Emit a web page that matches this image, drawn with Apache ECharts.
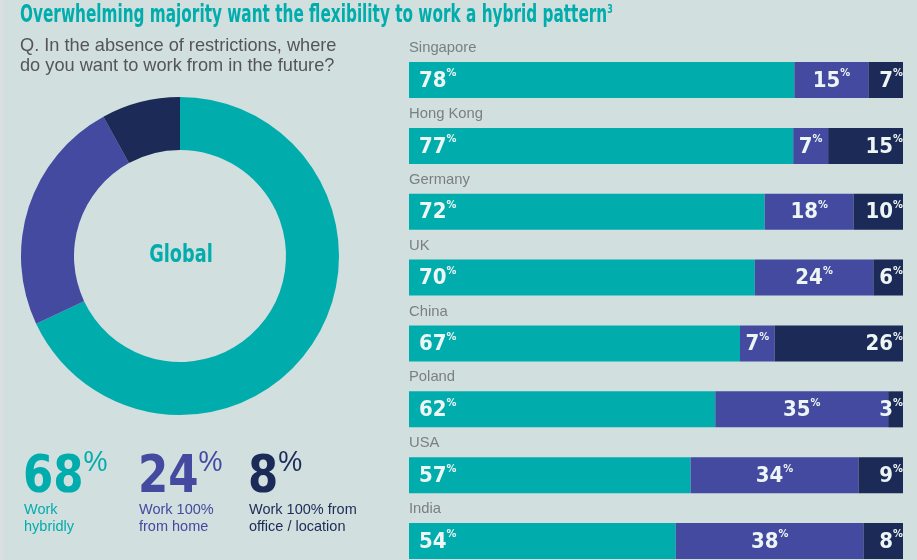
<!DOCTYPE html>
<html><head><meta charset="utf-8">
<script src="https://cdn.jsdelivr.net/npm/echarts@6/dist/echarts.min.js"></script>
<style>html,body{margin:0;padding:0;background:#d1dfdf}#c{width:917px;height:560px}</style>
</head><body><div id="c"></div>
<script>
const countries = ['Singapore','Hong Kong','Germany','UK','China','Poland','USA','India'];
const hybrid = [78,77,72,70,67,62,57,54];
const home = [15,7,18,24,7,35,34,38];
const office = [7,15,10,6,26,3,9,8];
const globalNames = ['Work hybridly','Work 100% from home','Work 100% from office / location'];
const globalValues = [68,24,8];
const globalLabels = ['Work\nhybridly','Work 100%\nfrom home','Work 100% from\noffice / location'];
const colors = ['#00adac','#434aa0','#1b2a56'];
const COND = '"DejaVu Sans Condensed","Liberation Sans Narrow",sans-serif';
const SANS = '"Liberation Sans",Arial,sans-serif';

const chart = echarts.init(document.getElementById('c'));
const rich = {
  v:{fontFamily:COND,fontWeight:'bold',fontSize:22,color:'#eef5f5',lineHeight:24,verticalAlign:'bottom'},
  p:{fontFamily:COND,fontWeight:'bold',fontSize:11,color:'#eef5f5',lineHeight:24,verticalAlign:'top',padding:[0,0,9,0]}
};
const totals = hybrid.map((v,i)=>v+home[i]+office[i]);
const norm = arr => arr.map((v,i)=>({value:v*100/totals[i], raw:v}));
const fmt = p => '{v|' + p.data.raw + '}{p|%}';
function barSeries(name, data, color, pos, dist){
  return {type:'bar', name, data:norm(data), stack:'a', barWidth:36, itemStyle:{color},
    label:{show:true, position:pos, distance:dist, formatter:fmt, rich}, silent:true};
}
const statX = [23,138,248];
const graphics = [
  {type:'rect', shape:{x:0,y:0,width:3,height:560}, style:{fill:'#dcdfdf'}},
  {type:'text', x:20, y:3, scaleX:0.68, style:{
    text:'Overwhelming majority want the flexibility to work a hybrid pattern{s|3}',
    fontFamily:COND, fontWeight:'bold', fontSize:25, fill:'#00adac',
    rich:{s:{fontFamily:COND,fontWeight:'bold',fontSize:13,fill:'#00adac',verticalAlign:'top',padding:[0,0,12,0]}}}},
  {type:'text', x:181, y:256, scaleX:0.82, style:{
    text:'Global', fontFamily:COND, fontWeight:'bold', fontSize:24, fill:'#00adac', align:'center', verticalAlign:'middle'}}
];
globalValues.forEach((v,i)=>{
  graphics.push({type:'text', x:statX[i], y:448, scaleX:0.93, style:{
    text:'{n|'+v+'}{s|%}', rich:{
      n:{fontFamily:COND,fontWeight:'bold',fontSize:52,fill:colors[i],verticalAlign:'bottom',lineHeight:56},
      s:{fontFamily:SANS,fontWeight:'normal',fontSize:29,fill:colors[i],verticalAlign:'top',lineHeight:56,padding:[0,0,22,0]}
    }}});
  graphics.push({type:'text', x:statX[i]+1, y:501, style:{
    text:globalLabels[i], fontFamily:SANS, fontSize:14.5, lineHeight:17, fill:colors[i]}});
});
chart.setOption({
  backgroundColor:'#d1dfdf',
  animation:false,
  title:[
    {text:'Q. In the absence of restrictions, where\ndo you want to work from in the future?', left:15, top:31,
     textStyle:{fontFamily:SANS,fontWeight:'normal',fontSize:18.2,lineHeight:20,color:'#555555'}}
  ],
  grid:{left:409, width:494, top:47.1, height:526.9, containLabel:false, outerBoundsMode:'none'},
  xAxis:{type:'value', min:0, max:100, show:false},
  yAxis:{type:'category', data:countries, inverse:true, show:false},
  series:[
    barSeries('Work hybridly', hybrid, colors[0], 'insideLeft', 10),
    barSeries('Work 100% from home', home, colors[1], 'inside', 0),
    barSeries('Work 100% from office / location', office, colors[2], 'insideRight', 0),
    {type:'scatter', symbolSize:0, silent:true, z:5,
     data:countries.map((c,i)=>[0,c]),
     label:{show:true, position:'right', distance:0, offset:[0,-32], formatter:p=>p.value[1],
       fontFamily:SANS, fontSize:14.8, color:'#666666'}},
    {type:'pie', radius:[106,159], center:[180,256], startAngle:90, clockwise:true, silent:true,
     label:{show:false}, labelLine:{show:false},
     data:globalValues.map((v,i)=>({name:globalNames[i], value:v, itemStyle:{color:colors[i]}}))}
  ],
  graphic:graphics
});
</script></body></html>
